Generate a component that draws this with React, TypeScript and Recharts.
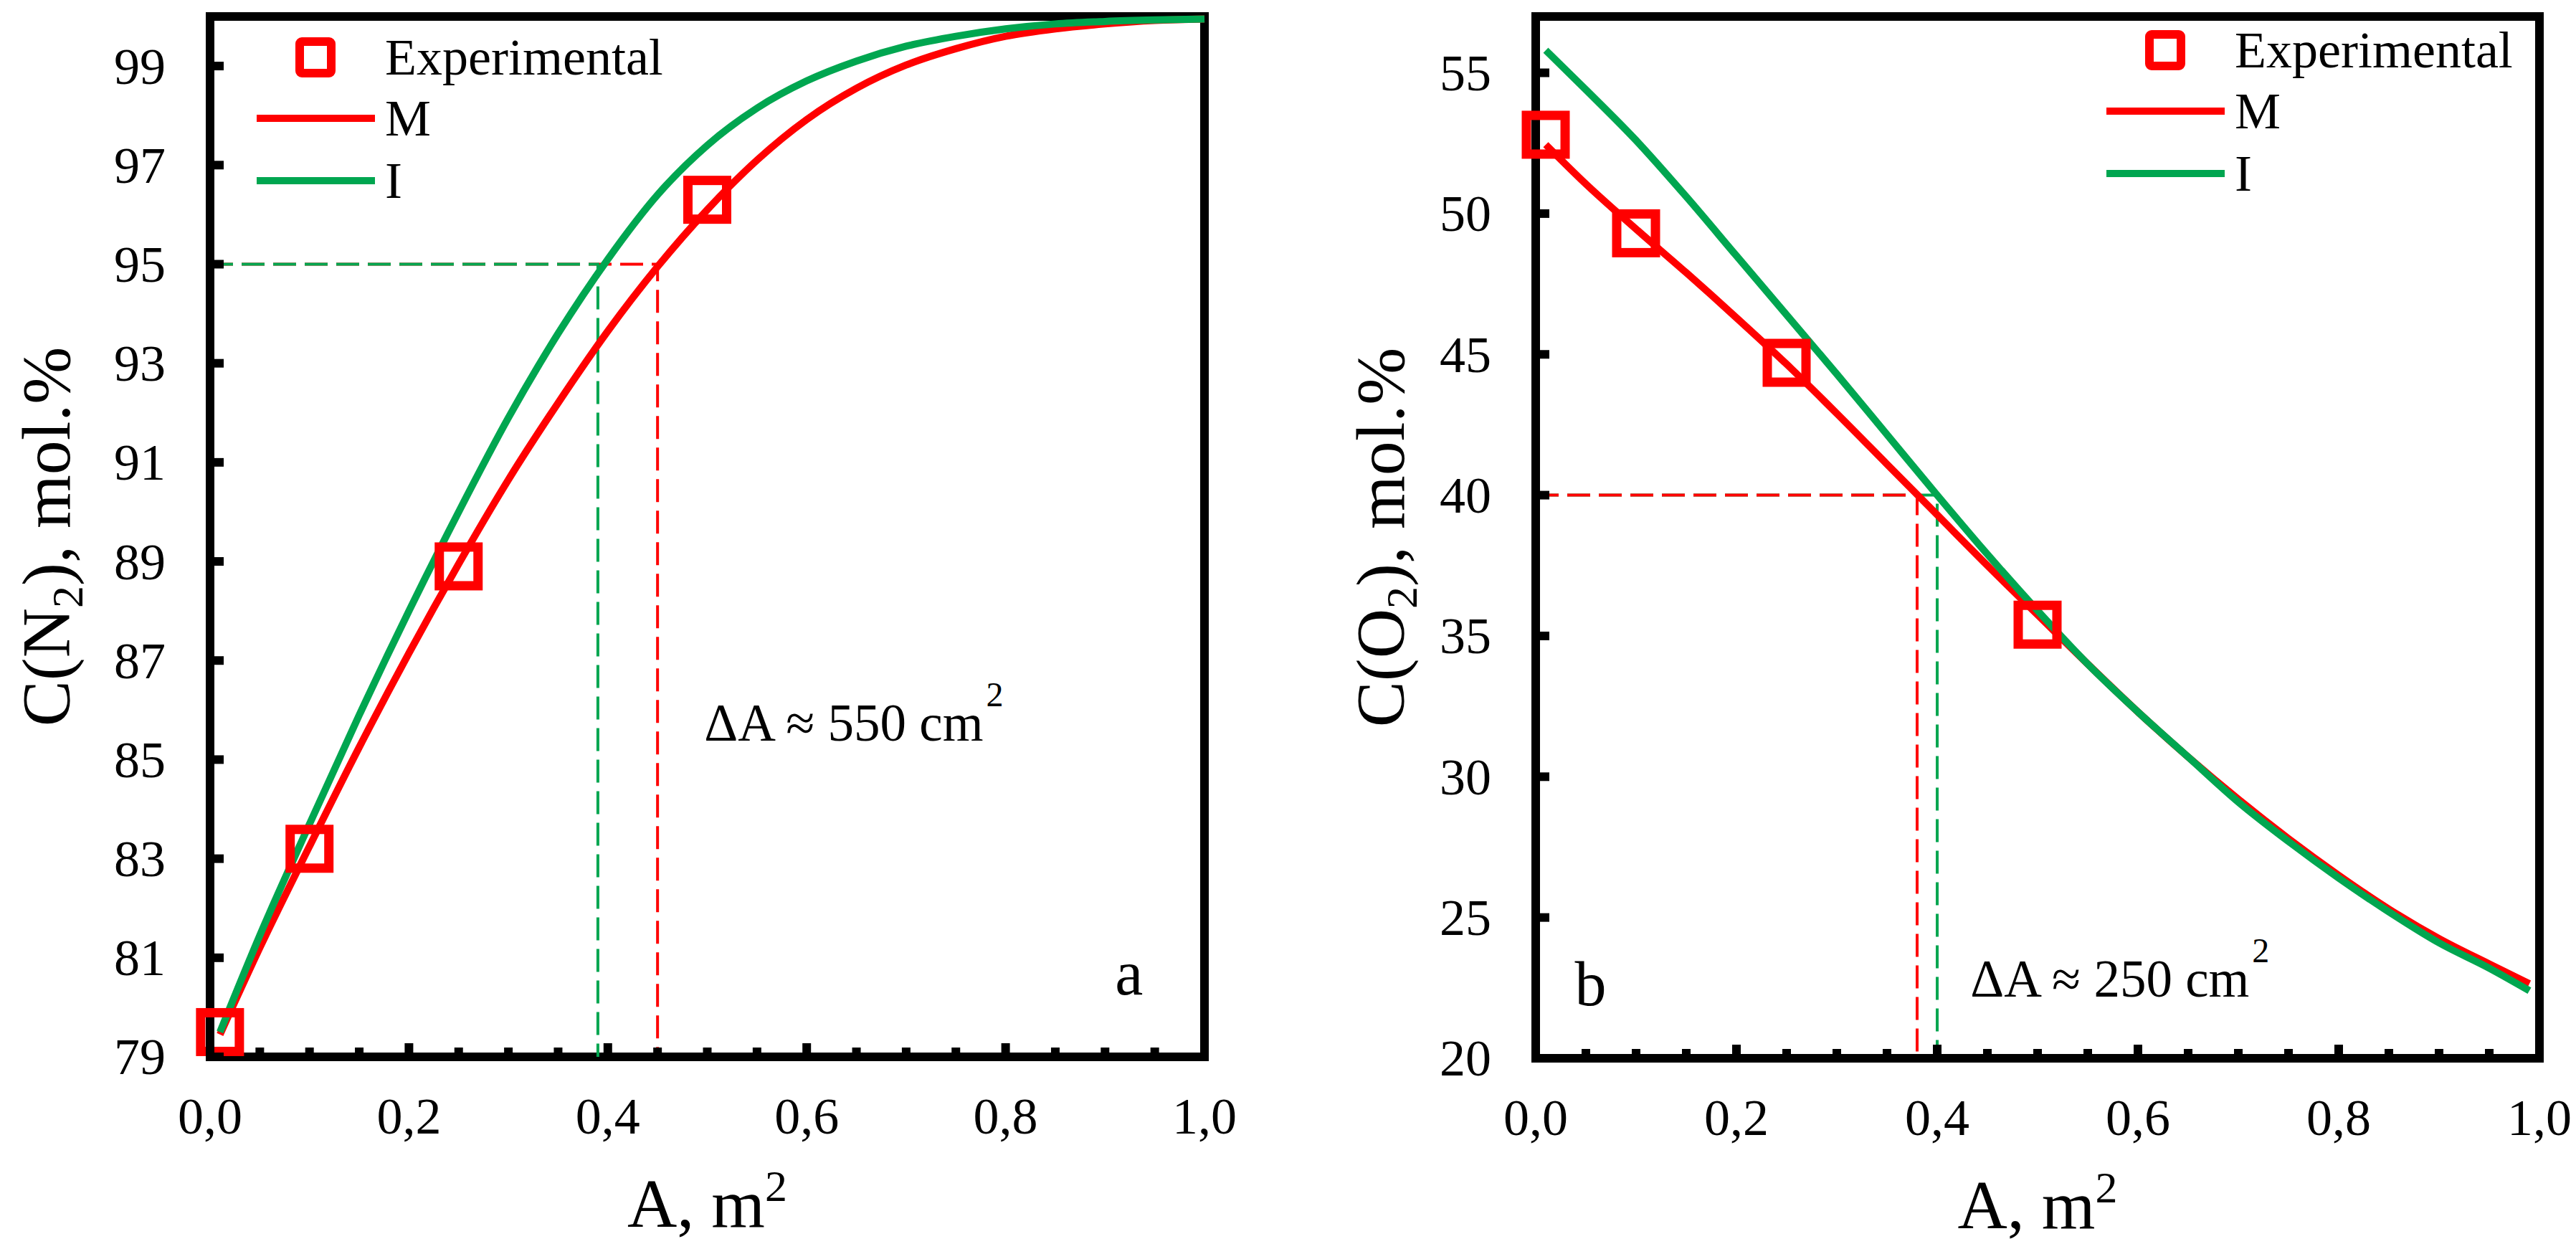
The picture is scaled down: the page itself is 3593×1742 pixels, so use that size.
import React from 'react';
import { ComposedChart, Line, Scatter, XAxis, YAxis, ReferenceArea, ReferenceDot, Legend } from 'recharts';

const FONT = '"Liberation Serif", "Times New Roman", serif';
const RED = '#ff0000';
const GREEN = '#00a650';

// shared x axis (A, m2)
const areaTicks = [0, 0.05, 0.1, 0.15, 0.2, 0.25, 0.3, 0.35, 0.4, 0.45, 0.5, 0.55, 0.6, 0.65, 0.7, 0.75, 0.8, 0.85, 0.9, 0.95, 1];

// experimental points
const expAreas = [0.01, 0.1, 0.25, 0.5];
const expN2 = [79.5, 83.2, 88.9, 96.3];
const expO2 = [52.8, 49.3, 44.7, 35.4];

// panel a: C(N2)
const n2Ticks = [79, 81, 83, 85, 87, 89, 91, 93, 95, 97, 99];
const n2CurveX = [0.01, 0.05, 0.1, 0.15, 0.2, 0.25, 0.3, 0.35, 0.4, 0.45, 0.5, 0.55, 0.6, 0.65, 0.7, 0.75, 0.8, 0.85, 0.9, 0.95, 1.0];
const n2M = [79.45, 81.2, 83.25, 85.25, 87.15, 88.95, 90.65, 92.2, 93.65, 94.95, 96.1, 97.1, 97.92, 98.55, 99.02, 99.35, 99.6, 99.75, 99.85, 99.92, 99.95];
const n2I = [79.5, 81.45, 83.7, 85.9, 88.0, 90.0, 91.9, 93.6, 95.1, 96.4, 97.4, 98.15, 98.7, 99.1, 99.4, 99.6, 99.75, 99.85, 99.9, 99.93, 99.95];
const n2GuideMx = [0, 0.45, 0.45];
const n2GuideMy = [95, 95, 79];
const n2GuideIx = [0, 0.39, 0.39];
const n2GuideIy = [95, 95, 79];

// panel b: C(O2)
const o2Ticks = [20, 25, 30, 35, 40, 45, 50, 55];
const o2CurveX = [0.01, 0.05, 0.1, 0.15, 0.2, 0.25, 0.3, 0.35, 0.4, 0.45, 0.5, 0.55, 0.6, 0.65, 0.7, 0.75, 0.8, 0.85, 0.9, 0.95, 0.99];
const o2M = [52.45, 51.05, 49.45, 47.9, 46.3, 44.65, 42.9, 41.1, 39.3, 37.5, 35.75, 34.0, 32.3, 30.7, 29.2, 27.8, 26.5, 25.3, 24.25, 23.35, 22.65];
const o2I = [55.8, 54.4, 52.6, 50.6, 48.5, 46.4, 44.3, 42.15, 40.0, 37.9, 35.9, 34.0, 32.3, 30.7, 29.1, 27.7, 26.4, 25.2, 24.1, 23.2, 22.4];
const o2GuideMx = [0, 0.38, 0.38];
const o2GuideMy = [40, 40, 20];
const o2GuideIx = [0, 0.4, 0.4];
const o2GuideIy = [40, 40, 20];

const pts = (xs: number[], ys: number[]) => xs.map((x, i) => ({ x, y: ys[i] }));

const YTick = (props: any) => {
  const { x, y, payload } = props;
  return (
    <g>
      <line x1={x} x2={x + 19} y1={y} y2={y} stroke="#000" strokeWidth={12} />
      <text x={x - 62} y={y} dy="0.34em" textAnchor="end" fontSize={72} fontFamily={FONT} fill="#000">
        {payload.value}
      </text>
    </g>
  );
};

const XTick = (props: any) => {
  const { x, y, payload } = props;
  const v = payload.value as number;
  const major = Math.round(v * 100) % 20 === 0;
  return (
    <g>
      <line x1={x} x2={x} y1={y} y2={y - (major ? 19 : 13)} stroke="#000" strokeWidth={12} />
      {major && (
        <text x={x} y={y + 107} textAnchor="middle" fontSize={72} fontFamily={FONT} fill="#000">
          {v.toFixed(1).replace('.', ',')}
        </text>
      )}
    </g>
  );
};

const Square = (props: any) => (
  <rect x={props.cx - 27} y={props.cy - 27} width={54} height={54} fill="none" stroke={RED} strokeWidth={13} />
);

const LegendBox = () => (
  <svg width={430} height={290} style={{ overflow: 'visible' }}>
    <rect x={78} y={38} width={44} height={44} rx={3} fill="none" stroke={RED} strokeWidth={12} />
    <text x={197} y={84} fontSize={72} fontFamily={FONT} fill="#000">Experimental</text>
    <line x1={18} x2={183} y1={145} y2={145} stroke={RED} strokeWidth={10} />
    <text x={197} y={169} fontSize={72} fontFamily={FONT} fill="#000">M</text>
    <line x1={18} x2={183} y1={232} y2={232} stroke={GREEN} strokeWidth={10} />
    <text x={197} y={256} fontSize={72} fontFamily={FONT} fill="#000">I</text>
  </svg>
);

const noteShape = (value: string) => (p: any) => (
  <text x={p.cx} y={p.cy} fontSize={73} fontFamily={FONT} fill="#000">
    {value}
    <tspan dx={4} dy={-48} fontSize={48}>2</tspan>
  </text>
);

const letterShape = (value: string) => (p: any) => (
  <text x={p.cx} y={p.cy} fontSize={88} fontFamily={FONT} fill="#000">{value}</text>
);

const yTitle = (gas: string, offset: number) => (props: any) => {
  const vb = props.viewBox;
  const cx = vb.x + vb.width - offset;
  const cy = vb.y + vb.height / 2;
  return (
    <g transform={`translate(${cx},${cy}) rotate(-90)`}>
      <text x={0} y={0} dy="0.33em" textAnchor="middle" fontSize={96} fontFamily={FONT} fill="#000">
        C({gas}
        <tspan dy={18} fontSize={62}>2</tspan>
        <tspan dy={-18}>), mol.%</tspan>
      </text>
    </g>
  );
};

const xTitle = (props: any) => {
  const vb = props.viewBox;
  return (
    <text x={vb.x + vb.width / 2} y={vb.y + 237} textAnchor="middle" fontSize={96} fontFamily={FONT} fill="#000">
      A, m
      <tspan dy={-36} fontSize={62}>2</tspan>
    </text>
  );
};

interface PanelProps {
  width: number;
  margin: { top: number; right: number; bottom: number; left: number };
  yDomain: [number, number];
  yTicks: number[];
  curveM: { x: number; y: number }[];
  curveI: { x: number; y: number }[];
  guideM: { x: number; y: number }[];
  guideI: { x: number; y: number }[];
  guideMOnTop: boolean;
  exp: { x: number; y: number }[];
  gas: string;
  titleOffset: number;
  legendPos: { left: number; top: number };
  note: { x: number; y: number; text: string };
  letter: { x: number; y: number; text: string };
}

function Panel(p: PanelProps) {
  const guideLines = [
    <Line key="gm" data={p.guideM} dataKey="y" type="linear" stroke={RED} strokeWidth={4} strokeDasharray="32 12" dot={false} isAnimationActive={false} />,
    <Line key="gi" data={p.guideI} dataKey="y" type="linear" stroke={GREEN} strokeWidth={4} strokeDasharray="32 12" dot={false} isAnimationActive={false} />,
  ];
  if (p.guideMOnTop) guideLines.reverse();
  return (
    <ComposedChart width={p.width} height={1742} margin={p.margin}>
      <XAxis
        type="number"
        dataKey="x"
        domain={[0, 1]}
        ticks={areaTicks}
        interval={0}
        height={60}
        tickLine={false}
        axisLine={false}
        tickSize={0}
        tickMargin={0}
        tick={<XTick />}
        label={xTitle}
      />
      <YAxis
        type="number"
        domain={p.yDomain}
        ticks={p.yTicks}
        interval={0}
        width={80}
        tickLine={false}
        axisLine={false}
        tickSize={0}
        tickMargin={0}
        tick={<YTick />}
        label={yTitle(p.gas, p.titleOffset)}
      />
      <ReferenceArea x1={0} x2={1} y1={p.yDomain[0]} y2={p.yDomain[1]} fill="none" stroke="#000" strokeWidth={12} />
      {guideLines}
      <Line data={p.curveM} dataKey="y" name="M" type="monotone" stroke={RED} strokeWidth={10} dot={false} isAnimationActive={false} />
      <Line data={p.curveI} dataKey="y" name="I" type="monotone" stroke={GREEN} strokeWidth={10} dot={false} isAnimationActive={false} />
      <Scatter data={p.exp} dataKey="y" name="Experimental" shape={<Square />} isAnimationActive={false} />
      <ReferenceDot x={p.note.x} y={p.note.y} r={0} shape={noteShape(p.note.text)} />
      <ReferenceDot x={p.letter.x} y={p.letter.y} r={0} shape={letterShape(p.letter.text)} />
      <Legend
        layout="horizontal"
        verticalAlign="middle"
        align="center"
        content={() => <LegendBox />}
        wrapperStyle={{ position: 'absolute', left: p.legendPos.left, top: p.legendPos.top, width: 430, height: 290 }}
      />
    </ComposedChart>
  );
}

export default function App() {
  return (
    <div style={{ position: 'absolute', left: 0, top: 0, width: 3593, height: 1742, background: '#fff', fontFamily: FONT }}>
      <div style={{ position: 'absolute', left: 0, top: 0 }}>
        <Panel
          width={1800}
          margin={{ top: 23, right: 120, bottom: 208, left: 213 }}
          yDomain={[79, 100]}
          yTicks={n2Ticks}
          curveM={pts(n2CurveX, n2M)}
          curveI={pts(n2CurveX, n2I)}
          guideM={pts(n2GuideMx, n2GuideMy)}
          guideI={pts(n2GuideIx, n2GuideIy)}
          guideMOnTop={false}
          exp={pts(expAreas, expN2)}
          gas="N"
          titleOffset={228}
          legendPos={{ left: 340, top: 20 }}
          note={{ x: 0.497, y: 85.38, text: 'ΔA ≈ 550 cm' }}
          letter={{ x: 0.91, y: 80.26, text: 'a' }}
        />
      </div>
      <div style={{ position: 'absolute', left: 1800, top: 0 }}>
        <Panel
          width={1793}
          margin={{ top: 23, right: 51, bottom: 206, left: 262 }}
          yDomain={[20, 57]}
          yTicks={o2Ticks}
          curveM={pts(o2CurveX, o2M)}
          curveI={pts(o2CurveX, o2I)}
          guideM={pts(o2GuideMx, o2GuideMy)}
          guideI={pts(o2GuideIx, o2GuideIy)}
          guideMOnTop={true}
          exp={pts(expAreas, expO2)}
          gas="O"
          titleOffset={216}
          legendPos={{ left: 1120, top: 10 }}
          note={{ x: 0.433, y: 22.19, text: 'ΔA ≈ 250 cm' }}
          letter={{ x: 0.039, y: 21.88, text: 'b' }}
        />
      </div>
    </div>
  );
}
